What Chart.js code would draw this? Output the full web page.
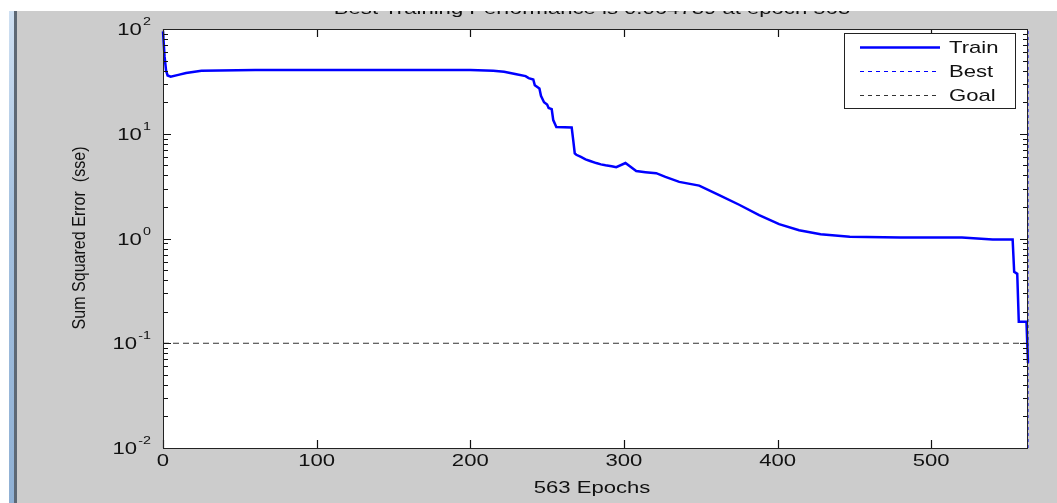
<!DOCTYPE html>
<html>
<head>
<meta charset="utf-8">
<script src="https://cdn.jsdelivr.net/npm/chart.js@4.4.0/dist/chart.umd.min.js"></script>
<style>
  body { margin: 0; background: #cccccc; width: 1057px; height: 503px; overflow: hidden; position: relative; }
  #myChart { position: absolute; left: 0; top: 0; }
  .strip { position: absolute; z-index: 2; }
</style>
</head>
<body>
<canvas id="myChart" width="1057" height="503"></canvas>
<div class="strip" style="left:0;top:0;width:1057px;height:11px;background:#ffffff;"></div>
<div class="strip" style="left:0;top:0;width:9px;height:503px;background:#ffffff;"></div>
<div class="strip" style="left:9px;top:11px;width:5px;height:492px;background:linear-gradient(#cfe0f2,#a6c2e0 40%,#8fb0d4);"></div>
<div class="strip" style="left:14px;top:11px;width:3px;height:492px;background:#5d6874;"></div>
<script>
// training record
const epochs   = [0, 1, 2, 3, 5, 10, 15, 25, 60, 100, 150, 200, 215, 222, 230, 236, 238, 241, 242, 245, 246, 248, 250, 251, 253, 254, 256, 266, 267, 268, 269, 272, 275, 278, 282, 285, 288, 292, 295, 301, 308, 314, 321, 327, 336, 349, 362, 375, 388, 401, 414, 428, 447, 480, 520, 540, 553, 554, 556, 557, 562, 563];
const trainSse = [95, 55, 40, 36, 35, 36.5, 38, 40, 40.5, 40.5, 40.5, 40.5, 40, 39, 37, 35.5, 34, 33, 29, 27, 23, 20, 19, 17.6, 17.2, 13.5, 11.6, 11.5, 8.7, 6.5, 6.3, 6.0, 5.7, 5.5, 5.25, 5.1, 5.0, 4.9, 4.8, 5.25, 4.4, 4.3, 4.2, 3.87, 3.47, 3.2, 2.6, 2.1, 1.67, 1.37, 1.2, 1.1, 1.04, 1.02, 1.02, 0.98, 0.98, 0.48, 0.46, 0.16, 0.16, 0.065];
const bestEpoch = 563;
const goalSse = 0.1;

const xTicks = [0, 100, 200, 300, 400, 500];
const yExponents = [-2, -1, 0, 1, 2];

const titleText = "Best Training Performance is 0.064739 at epoch 563";
const xTitle = "563 Epochs";
const yTitle = "Sum Squared Error  (sse)";
const legendLabels = ["Train", "Best", "Goal"];

const FONT = "'Liberation Sans', Arial, sans-serif";
const SX = 1.3; // the picture is stretched sideways

function stretchText(ctx, txt, x, y, align) {
  ctx.save();
  ctx.translate(x, y);
  ctx.scale(SX, 1);
  ctx.textAlign = align;
  ctx.fillText(txt, 0, 0);
  ctx.restore();
}

const matlabAxes = {
  id: "matlabAxes",
  beforeDatasetsDraw(chart) {
    const ctx = chart.ctx;
    const a = chart.chartArea;
    const xs = chart.scales.x;
    const ys = chart.scales.y;
    ctx.save();
    ctx.fillStyle = "#ffffff";
    ctx.fillRect(a.left, a.top, a.right - a.left, a.bottom - a.top);

    // tick labels
    ctx.fillStyle = "#111";
    ctx.textBaseline = "alphabetic";
    ctx.font = "17px " + FONT;
    xTicks.forEach(t => {
      stretchText(ctx, String(t), xs.getPixelForValue(t), 466, "center");
    });
    yExponents.forEach(e => {
      let py = ys.getPixelForValue(Math.pow(10, e));
      ctx.font = "17px " + FONT;
      let w1 = ctx.measureText("10").width;
      ctx.font = "11px " + FONT;
      let w2 = ctx.measureText(String(e)).width;
      let x0 = 151 - (w1 + 1 + w2) * SX;
      ctx.font = "17px " + FONT;
      stretchText(ctx, "10", x0, py + 6, "left");
      ctx.font = "11px " + FONT;
      stretchText(ctx, String(e), x0 + (w1 + 1) * SX, py - 4, "left");
    });

    // axis titles
    ctx.font = "17px " + FONT;
    stretchText(ctx, xTitle, 592, 493, "center");
    stretchText(ctx, titleText, 592, 14, "center");
    ctx.save();
    ctx.translate(80, 238);
    ctx.scale(SX, 1);
    ctx.rotate(-Math.PI / 2);
    ctx.font = "14px " + FONT;
    let w = ctx.measureText(yTitle).width;
    ctx.scale(183 / w, 1);
    ctx.textAlign = "center";
    ctx.textBaseline = "middle";
    ctx.fillText(yTitle, 0, 0);
    ctx.restore();
    ctx.restore();
  },
  afterDatasetsDraw(chart) {
    // box and inward tick marks, drawn over the lines like MATLAB does
    const ctx = chart.ctx;
    const a = chart.chartArea;
    const xs = chart.scales.x;
    const ys = chart.scales.y;
    ctx.save();
    ctx.strokeStyle = "#111111";
    ctx.lineWidth = 1.2;
    ctx.setLineDash([]);
    xTicks.forEach(t => {
      let px = Math.round(xs.getPixelForValue(t)) + 0.5;
      ctx.beginPath();
      ctx.moveTo(px, a.bottom);
      ctx.lineTo(px, a.bottom - 8);
      ctx.moveTo(px, a.top);
      ctx.lineTo(px, a.top + 8);
      ctx.stroke();
    });
    yExponents.forEach(e => {
      for (let m = 1; m <= 9; m++) {
        if (e == 2 && m > 1) break;
        let py = Math.round(ys.getPixelForValue(m * Math.pow(10, e))) + 0.5;
        let len = m == 1 ? 8 : 5;
        ctx.beginPath();
        ctx.moveTo(a.left, py);
        ctx.lineTo(a.left + len, py);
        ctx.moveTo(a.right, py);
        ctx.lineTo(a.right - len, py);
        ctx.stroke();
      }
    });
    ctx.lineWidth = 1;
    ctx.strokeStyle = "#222";
    ctx.strokeRect(a.left + 0.5, a.top + 0.5, a.right - a.left - 1, a.bottom - a.top);
    ctx.restore();
  },
  afterDraw(chart) {
    // legend box in the upper right corner
    const ctx = chart.ctx;
    const styles = [
      { color: "#0000ff", width: 2.5, dash: [] },
      { color: "#0000ff", width: 1, dash: [4, 4] },
      { color: "#333333", width: 1, dash: [4, 4] },
    ];
    const rowsY = [47, 71, 95];
    ctx.save();
    ctx.fillStyle = "#ffffff";
    ctx.fillRect(844, 33, 171, 75);
    ctx.strokeStyle = "#222";
    ctx.lineWidth = 1;
    ctx.strokeRect(844.5, 33.5, 171, 75);
    legendLabels.forEach((lab, i) => {
      ctx.beginPath();
      ctx.strokeStyle = styles[i].color;
      ctx.lineWidth = styles[i].width;
      ctx.setLineDash(styles[i].dash);
      ctx.moveTo(860, rowsY[i] + 0.5);
      ctx.lineTo(940, rowsY[i] + 0.5);
      ctx.stroke();
      ctx.setLineDash([]);
      ctx.fillStyle = "#111";
      ctx.font = "17px " + FONT;
      ctx.textBaseline = "middle";
      stretchText(ctx, lab, 949, rowsY[i] + 1, "left");
    });
    ctx.restore();
  }
};

let trainPoints = epochs.map((e, i) => ({ x: e, y: trainSse[i] }));

const data = {
  datasets: [
    {
      label: "Train",
      data: trainPoints,
      borderColor: "#0000ff",
      borderWidth: 2.5,
      pointRadius: 0,
      tension: 0,
      clip: 4,
    },
    {
      label: "Best",
      data: [{ x: bestEpoch, y: 0.01 }, { x: bestEpoch, y: 100 }],
      borderColor: "#0000ff",
      borderWidth: 1,
      borderDash: [3, 3],
      pointRadius: 0,
      clip: 4,
    },
    {
      label: "Goal",
      data: [{ x: 0, y: goalSse }, { x: bestEpoch, y: goalSse }],
      borderColor: "#333333",
      borderWidth: 1,
      borderDash: [6, 4],
      pointRadius: 0,
      clip: 4,
    },
  ],
};

const config = {
  type: "line",
  data: data,
  options: {
    responsive: false,
    animation: false,
    devicePixelRatio: 1,
    layout: { padding: { left: 163, right: 29, top: 29, bottom: 55 } },
    scales: {
      x: { type: "linear", min: 0, max: 563, display: false },
      y: { type: "logarithmic", min: 0.01, max: 100, display: false },
    },
    plugins: { legend: { display: false }, tooltip: { enabled: false } },
  },
  plugins: [matlabAxes],
};

const myChart = new Chart(document.getElementById("myChart"), config);
</script>
</body>
</html>
